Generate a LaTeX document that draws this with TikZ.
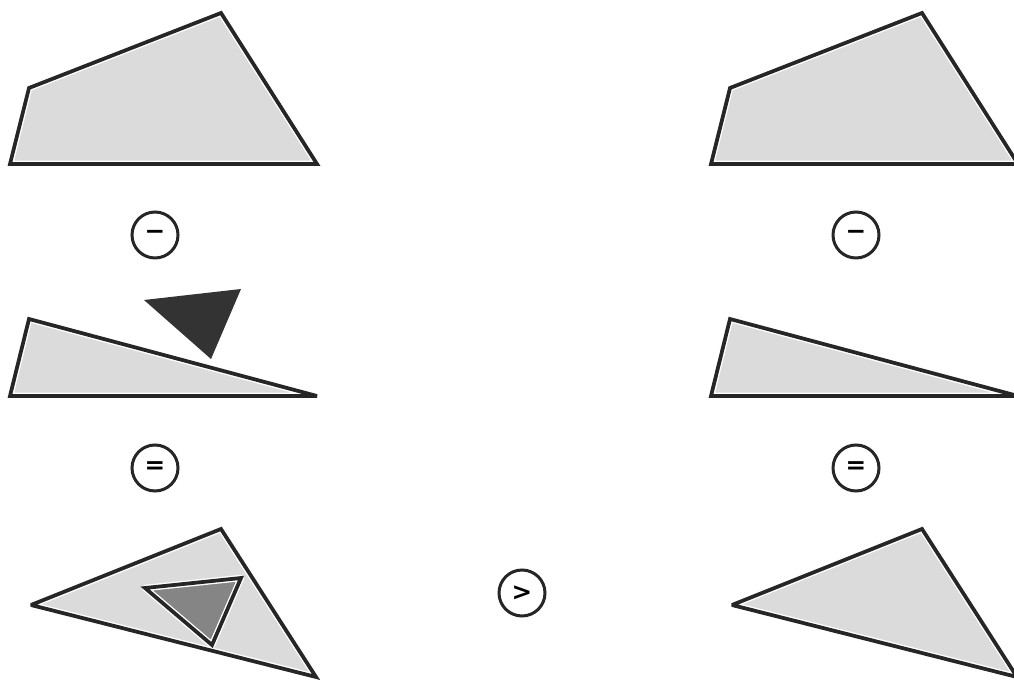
\documentclass[tikz,border=0pt]{standalone}
\usepackage{fontspec}
\usepackage{xcolor}
\usepackage{tikz}
\newfontfamily\opfont{DejaVu Sans}

\begin{document}
\begin{tikzpicture}[x=0.02cm, y=-0.02cm, line join=miter, miter limit=3,
    region/.style={draw=black!85, line width=0.075cm,
        preaction={fill=#1},
        preaction={draw=white, line width=0.13cm, line join=round}},
    op/.style={circle, draw=black!85, line width=0.06cm, minimum size=0.92cm,
        inner sep=0pt, font=\opfont\bfseries\fontsize{14}{16}\selectfont}]
    \colorlet{pale}{black!14}
    \colorlet{mid}{black!48}
    \colorlet{dark}{black!80}
    \clip (0,0) rectangle (1014,685);

    % same shapes in both columns
    \foreach \dx in {0, 701} {
        \draw[region=pale, shift={(\dx,0)}] (10,164) -- (29,88) -- (221,13) -- (317,164) -- cycle;
        \draw[region=pale, shift={(\dx,0)}] (10,396) -- (29,319) -- (317,396) -- cycle;
        \draw[region=pale, shift={(\dx,0)}] (31,605) -- (221,529) -- (316,677) -- cycle;
    }

    % left column only
    \fill[dark] (144,300) -- (241,289) -- (211,359) -- cycle;
    \draw[region=mid] (145,588) -- (241,578) -- (212,645) -- cycle;

    \node[op] (minusL) at (155,235) {−};
    \node[op] (minusR) at (856,235) {−};
    \node[op] (eqL)    at (155,468) {=};
    \node[op] (eqR)    at (856,468) {=};
    \node[op] (gt)     at (522,593) {>};
\end{tikzpicture}
\end{document}
